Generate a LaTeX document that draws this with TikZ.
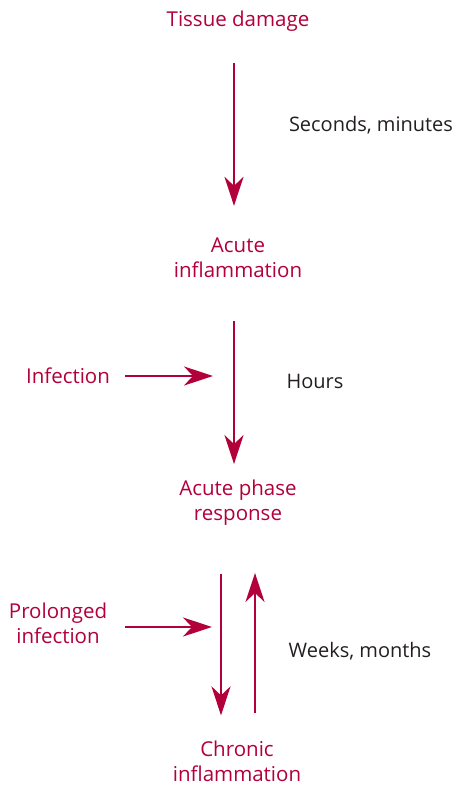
\documentclass[tikz,border=0pt]{standalone}
\usepackage{fontspec}
\setmainfont{Open Sans}
\usepackage{xcolor}
\usetikzlibrary{arrows.meta,positioning,calc}

\definecolor{crimson}{RGB}{178,0,58}
\definecolor{inkgrey}{RGB}{35,31,32}

\tikzset{
	stage/.style={text=crimson, align=center, inner sep=0pt, font=\fontsize{20.5}{25}\selectfont},
	timing/.style={text=inkgrey, inner sep=0pt, font=\fontsize{20}{25}\selectfont},
	flow/.style={draw=crimson, line width=2.6pt, -{Stealth[length=29pt,width=19pt,inset=9pt]}}
}

\begin{document}
\begin{tikzpicture}[x=1pt,y=-1pt]
		\useasboundingbox (0,0) rectangle (456,786);

		% stages
		\node[stage] (tissue) at (238,21) {Tissue damage};
		\node[stage] (acute) at (238,258) {Acute\\inflammation};
		\node[stage] (phase) at (238,503) {Acute phase\\response};
		\node[stage] (chronic) at (237,761) {Chronic\\inflammation};

		% triggers
		\node[stage] (infection) at (68,376) {Infection};
		\node[stage] (prolonged) at (58,623) {Prolonged\\infection};

		% time scales
		\node[timing] (secs) at (371,125) {Seconds, minutes};
		\node[timing] (hours) at (315,381) {Hours};
		\node[timing] (weeks) at (360,651) {Weeks, months};

		\coordinate (hit1) at (213,376);
		\coordinate (hit2) at (212,627);

		\draw[flow, shorten <=32pt, shorten >=32pt] (tissue.south -| 234,0) -- (acute.north -| 234,0);
		\draw[flow, shorten <=43pt, shorten >=16pt] (acute.south -| 234,0) -- (phase.north -| 234,0);
		\draw[flow, shorten <=48pt, shorten >=25pt] (phase.south -| 221,0) -- (chronic.north -| 221,0);
		\draw[flow, shorten <=27pt, shorten >=47pt] (chronic.north -| 255,0) -- (phase.south -| 255,0);

		\draw[flow] (infection.east -| 125,0) -- (hit1);
		\draw[flow] (prolonged.east -| 125,0) ++(0,4) -- (hit2);
	\end{tikzpicture}
\end{document}
